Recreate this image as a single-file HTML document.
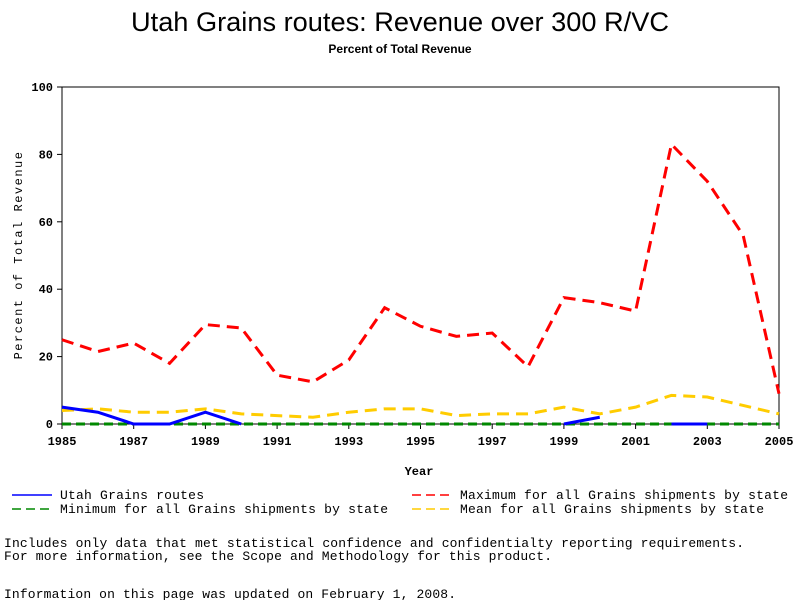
<!DOCTYPE html>
<html><head><meta charset="utf-8"><style>
body{margin:0;background:#fff;width:800px;height:600px;overflow:hidden}
svg text{font-family:"Liberation Mono",monospace}
</style></head><body>
<svg id="c" width="800" height="600">
<text x="400" y="31" text-anchor="middle" textLength="538" lengthAdjust="spacingAndGlyphs" style="font-family:'Liberation Sans',sans-serif;font-size:27px">Utah Grains routes: Revenue over 300 R/VC</text>
<text x="400" y="53" text-anchor="middle" style="font-family:'Liberation Sans',sans-serif;font-size:12px;font-weight:bold">Percent of Total Revenue</text>
<rect x="62" y="87" width="717" height="337" fill="none" stroke="#000"/>
<g id="axes"></g><g id="series"></g>
<text x="419" y="475" text-anchor="middle" font-size="12" font-weight="bold">Year</text>
<text transform="translate(22,255) rotate(-90)" text-anchor="middle" font-size="12" letter-spacing="1.5">Percent of Total Revenue</text>
<g>
<line x1="12" y1="495" x2="52" y2="495" stroke="#00f" stroke-width="1.5"/>
<text x="60" y="499" font-size="13" textLength="144">Utah Grains routes</text>
<line x1="12" y1="509" x2="52" y2="509" stroke="#080" stroke-width="1.5" stroke-dasharray="9,5"/>
<text x="60" y="513" font-size="13" textLength="328">Minimum for all Grains shipments by state</text>
<line x1="412" y1="495" x2="452" y2="495" stroke="#f00" stroke-width="1.5" stroke-dasharray="9,5"/>
<text x="460" y="499" font-size="13" textLength="328">Maximum for all Grains shipments by state</text>
<line x1="412" y1="509" x2="452" y2="509" stroke="#fc0" stroke-width="1.5" stroke-dasharray="9,5"/>
<text x="460" y="513" font-size="13" textLength="304">Mean for all Grains shipments by state</text>
</g>
<text x="4" y="547" font-size="13" textLength="740">Includes only data that met statistical confidence and confidentialty reporting requirements.</text>
<text x="4" y="560" font-size="13" textLength="548">For more information, see the Scope and Methodology for this product.</text>
<text x="4" y="598" font-size="13" textLength="452">Information on this page was updated on February 1, 2008.</text>
</svg>
<script>
const years=[1985,1986,1987,1988,1989,1990,1991,1992,1993,1994,1995,1996,1997,1998,1999,2000,2001,2002,2003,2004,2005];
const maxVals=[25,21.5,24,18,29.5,28.5,14.5,12.5,19,34.5,29,26,27,17,37.5,36,33.5,83,72,56,9];
const meanVals=[4,4.5,3.5,3.5,4.5,3,2.5,2,3.5,4.5,4.5,2.5,3,3,5,3,5,8.5,8,5.5,3];
const minVals=[0,0,0,0,0,0,0,0,0,0,0,0,0,0,0,0,0,0,0,0,0];
const utahVals=[5,3.5,0,0,3.5,0,null,null,null,null,null,null,null,null,0,2,null,0,0,null,null];
const yTicks=[0,20,40,60,80,100];
const xTicks=[1985,1987,1989,1991,1993,1995,1997,1999,2001,2003,2005];
const NS="http://www.w3.org/2000/svg";
const X=y=>62+(y-1985)*717/20, Y=v=>424-v*3.37;
const ax=document.getElementById('axes'), sr=document.getElementById('series');
function mk(t,a,p){const e=document.createElementNS(NS,t);for(const k in a)e.setAttribute(k,a[k]);p.appendChild(e);return e;}
yTicks.forEach(v=>{mk('line',{x1:57,x2:62,y1:Y(v),y2:Y(v),stroke:'#000'},ax);
const t=mk('text',{x:53,y:Y(v)+4,'text-anchor':'end','font-size':12,'font-weight':'bold'},ax);t.textContent=v;

});
xTicks.forEach(v=>{mk('line',{x1:X(v),x2:X(v),y1:424,y2:429,stroke:'#000'},ax);
const t=mk('text',{x:X(v),y:445,'text-anchor':'middle','font-size':12,'font-weight':'bold'},ax);t.textContent=v;

});
function draw(vals,color,dash,w,name){let d='',pen=false;
vals.forEach((v,i)=>{if(v==null){pen=false;return;}d+=(pen?'L':'M')+X(years[i])+' '+Y(v)+' ';pen=true;});
const p=mk('path',{d:d,fill:'none',stroke:color,'stroke-width':w,'stroke-dasharray':dash},sr);

}
draw(minVals,'#080','9,5',3,'minimum-line');
draw(meanVals,'#fc0','12,7',3,'mean-line');
draw(maxVals,'#f00','12,7',3,'maximum-line');
draw(utahVals,'#00f','none',3,'utah-line');
</script>
</body></html>
